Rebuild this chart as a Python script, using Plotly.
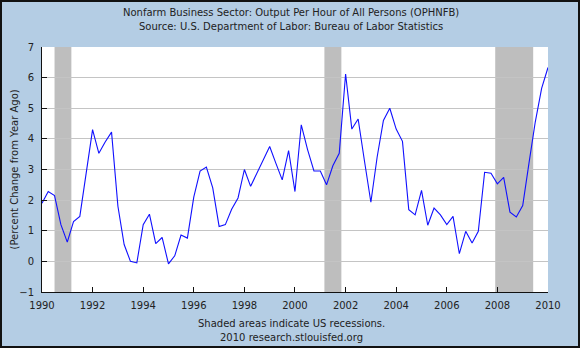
import plotly.graph_objects as go
import pandas as pd

# Quarterly observations, 1990 Q1 .. 2010 Q1 (percent change from year ago)
dates = pd.date_range("1990-01-01", "2010-01-01", freq="QS")
values = [
    1.90, 2.28, 2.15, 1.20,   # 1990
    0.63, 1.30, 1.47, 2.90,   # 1991
    4.30, 3.53, 3.90, 4.22,   # 1992
    1.80, 0.55, 0.00, -0.05,  # 1993
    1.20, 1.54, 0.58, 0.78,   # 1994
    -0.08, 0.18, 0.86, 0.76,  # 1995
    2.10, 2.95, 3.08, 2.40,   # 1996
    1.14, 1.20, 1.70, 2.07,   # 1997
    3.00, 2.45, 2.90, 3.35,   # 1998
    3.75, 3.20, 2.66, 3.62,   # 1999
    2.28, 4.46, 3.65, 2.95,   # 2000
    2.95, 2.50, 3.12, 3.53,   # 2001
    6.12, 4.32, 4.65, 3.27,   # 2002
    1.93, 3.40, 4.60, 5.00,   # 2003
    4.32, 3.92, 1.69, 1.52,   # 2004
    2.32, 1.18, 1.74, 1.52,   # 2005
    1.20, 1.47, 0.25, 0.98,   # 2006
    0.60, 0.98, 2.91, 2.88,   # 2007
    2.53, 2.74, 1.61, 1.45,   # 2008
    1.82, 3.20, 4.55, 5.65,   # 2009
    6.33,                     # 2010
]

recession_starts = ["1990-07-01", "2001-03-01", "2007-12-01"]
recession_ends = ["1991-03-01", "2001-11-01", "2009-06-01"]

title_lines = [
    "Nonfarm Business Sector: Output Per Hour of All Persons (OPHNFB)",
    "Source: U.S. Department of Labor: Bureau of Labor Statistics",
]
y_title = "(Percent Change from Year Ago)"
footer_lines = ["Shaded areas indicate US recessions.", "2010 research.stlouisfed.org"]

W, H = 580, 348
ML, MR, MT, MB = 42, 32, 47, 56
PW, PH = W - ML - MR, H - MT - MB

def px_x(p):
    return (p - ML) / PW

def px_y(p):
    return (H - MB - p) / PH

FONT = "DejaVu Sans, Verdana, sans-serif"
TXT = "#222222"

fig = go.Figure()
fig.add_trace(go.Scatter(
    x=dates, y=values, mode="lines",
    line=dict(color="#1010FF", width=1.1),
    hoverinfo="skip", showlegend=False,
))

shapes = []
for s, e in zip(recession_starts, recession_ends):
    shapes.append(dict(type="rect", xref="x", yref="paper", x0=s, x1=e, y0=0, y1=1,
                       fillcolor="#BEBEBE", line=dict(width=0), layer="between"))
# outer frame of the image
shapes.append(dict(type="rect", xref="paper", yref="paper",
                   x0=px_x(1), x1=px_x(W - 1), y0=px_y(H - 1), y1=px_y(1),
                   line=dict(color="#111111", width=2), fillcolor="rgba(0,0,0,0)", layer="above"))

annotations = []
for txt, yc in zip(title_lines, [12, 26.5]):
    annotations.append(dict(text=txt, xref="paper", yref="paper", x=px_x(291), y=px_y(yc),
                            xanchor="center", yanchor="middle", showarrow=False,
                            font=dict(family=FONT, size=10, color=TXT)))
for txt, yc in zip(footer_lines, [323.5, 337]):
    annotations.append(dict(text=txt, xref="paper", yref="paper", x=px_x(291), y=px_y(yc),
                            xanchor="center", yanchor="middle", showarrow=False,
                            font=dict(family=FONT, size=10, color=TXT)))
annotations.append(dict(text=y_title, xref="paper", yref="paper", x=px_x(13.5), y=px_y(170),
                        xanchor="center", yanchor="middle", showarrow=False, textangle=-90,
                        font=dict(family=FONT, size=10, color=TXT)))

fig.update_layout(
    width=W, height=H,
    margin=dict(l=ML, r=MR, t=MT, b=MB, pad=0),
    paper_bgcolor="#B4CDE4",
    plot_bgcolor="#FFFFFF",
    font=dict(family=FONT, size=10, color=TXT),
    shapes=shapes,
    annotations=annotations,
    xaxis=dict(
        type="date", range=["1990-01-01", "2010-01-01"],
        tick0="1990-01-01", dtick="M24", tickformat="%Y",
        ticks="inside", ticklen=5, tickcolor="#111111", tickwidth=1,
        showline=True, linecolor="#111111", linewidth=1,
        showgrid=False, zeroline=False,
        ticklabelstandoff=4,
        tickfont=dict(family=FONT, size=10, color=TXT),
    ),
    yaxis=dict(
        range=[-1, 7], dtick=1, tick0=0,
        ticks="inside", ticklen=5, tickcolor="#111111", tickwidth=1,
        showline=True, linecolor="#111111", linewidth=1,
        showgrid=True, gridcolor="#C4C4C4", gridwidth=1,
        zeroline=False,
        ticklabelstandoff=5,
        tickfont=dict(family=FONT, size=10, color=TXT),
    ),
)

fig.write_html("out.html")
